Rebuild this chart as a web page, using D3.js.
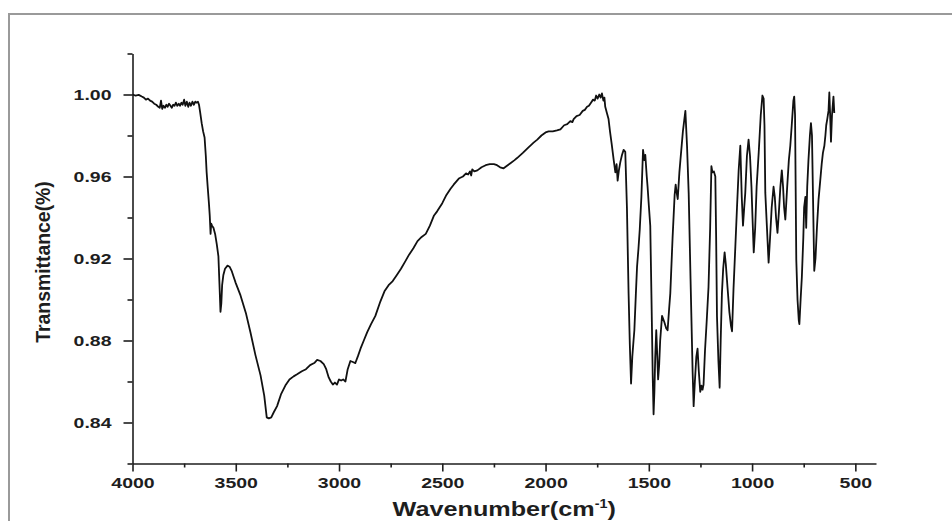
<!DOCTYPE html>
<html>
<head>
<meta charset="utf-8">
<script src="https://cdn.jsdelivr.net/npm/d3@7"></script>
<style>
  html, body { margin: 0; padding: 0; background: #fff; }
  svg { display: block; }
</style>
</head>
<body>
<div id="chart"></div>
<script>
// ---- data ----
const wavenumbers = [
  4000,3985,3970,3955,3945,3935,3925,3915,3905,3895,3885,3875,3868,3862,3856,3850,3843,3836,3830,3823,
  3816,3810,3803,3796,3790,3783,3776,3770,3763,3757,3750,3744,3737,3730,3724,3717,3710,3703,3696,3690,
  3683,3678,3672,3665,3658,3651,3645,3641,3636,3630,3626,3622,3619,3615,3608,3600,3592,3584,3578,3574,
  3570,3566,3560,3552,3540,3530,3520,3510,3500,3477,3450,3429,3405,3380,3362,3350,3340,3328,3316,3300,
  3280,3260,3240,3220,3203,3180,3160,3140,3120,3106,3090,3074,3062,3050,3040,3030,3020,3010,3000,2990,
  2980,2969,2958,2945,2933,2921,2908,2896,2880,2864,2845,2824,2800,2780,2760,2740,2720,2700,2680,2660,
  2640,2620,2600,2580,2560,2540,2525,2500,2480,2460,2445,2420,2400,2385,2375,2366,2360,2355,2345,2330,
  2310,2290,2270,2250,2235,2220,2203,2190,2170,2150,2138,2110,2085,2058,2040,2020,2000,1985,1965,1945,
  1928,1910,1895,1880,1870,1864,1850,1835,1820,1810,1799,1790,1780,1770,1762,1755,1748,1740,1733,1727,
  1720,1715,1711,1703,1695,1688,1680,1670,1662,1656,1651,1645,1638,1630,1622,1614,1606,1598,1592,1586,
  1580,1574,1570,1563,1557,1550,1544,1536,1528,1522,1517,1510,1506,1500,1493,1487,1481,1477,1473,1469,
  1464,1459,1455,1450,1445,1436,1425,1416,1409,1402,1396,1385,1375,1370,1365,1360,1352,1347,1335,1323,
  1315,1307,1298,1288,1283,1277,1270,1264,1258,1251,1245,1240,1235,1228,1220,1211,1203,1197,1192,1185,
  1178,1174,1170,1163,1157,1152,1146,1140,1133,1127,1119,1110,1102,1097,1090,1081,1073,1065,1057,1050,
  1044,1038,1033,1025,1017,1010,1003,998,992,985,978,968,958,950,944,940,936,928,920,913,
  905,896,890,884,877,870,863,856,850,845,839,830,822,815,808,800,796,792,786,780,
  774,771,765,759,752,748,742,738,733,727,720,715,710,705,699,693,686,678,670,663,
  657,650,645,641,636,630,626,622,618,613,606,602
];
const transmittance = [
  1.000,0.9995,0.9998,0.999,0.9985,0.9975,0.998,0.997,0.9965,0.9955,0.995,0.994,0.9935,0.997,0.993,0.9945,0.9935,0.995,0.994,0.9955,
  0.9945,0.9935,0.995,0.9945,0.996,0.9945,0.9955,0.9945,0.996,0.995,0.9975,0.9945,0.9965,0.994,0.996,0.9945,0.9965,0.995,0.9965,0.996,
  0.9965,0.995,0.991,0.986,0.982,0.979,0.970,0.962,0.955,0.947,0.941,0.932,0.937,0.936,0.935,0.932,0.927,0.921,0.905,0.894,
  0.898,0.907,0.912,0.915,0.9165,0.916,0.914,0.911,0.908,0.902,0.893,0.884,0.873,0.863,0.853,0.8425,0.842,0.8425,0.845,0.848,
  0.854,0.858,0.861,0.8625,0.8635,0.865,0.866,0.868,0.869,0.8705,0.870,0.8685,0.866,0.862,0.860,0.8585,0.8595,0.8585,0.861,0.8605,
  0.861,0.860,0.866,0.870,0.8695,0.869,0.8725,0.876,0.880,0.884,0.888,0.892,0.899,0.904,0.907,0.909,0.912,0.915,0.9185,0.922,
  0.925,0.9285,0.9305,0.932,0.936,0.941,0.943,0.947,0.951,0.954,0.956,0.959,0.960,0.9615,0.961,0.9625,0.9605,0.9635,0.9625,0.963,
  0.9645,0.9655,0.966,0.966,0.9655,0.9645,0.964,0.965,0.9665,0.968,0.969,0.9715,0.974,0.9765,0.978,0.980,0.9815,0.982,0.982,0.9825,
  0.983,0.985,0.9855,0.987,0.9865,0.988,0.9895,0.990,0.992,0.9925,0.994,0.9945,0.996,0.9975,0.997,0.9995,0.998,1.000,0.9985,1.0005,
  0.997,0.9985,0.994,0.991,0.988,0.982,0.976,0.968,0.962,0.966,0.958,0.963,0.967,0.9705,0.973,0.972,0.945,0.903,0.878,0.859,
  0.872,0.880,0.885,0.902,0.916,0.925,0.934,0.950,0.973,0.968,0.9705,0.960,0.955,0.946,0.936,0.900,0.862,0.844,0.855,0.872,
  0.885,0.872,0.861,0.868,0.880,0.892,0.889,0.886,0.885,0.895,0.903,0.930,0.951,0.956,0.952,0.949,0.962,0.968,0.982,0.992,
  0.975,0.952,0.910,0.865,0.848,0.860,0.872,0.876,0.865,0.855,0.858,0.856,0.8585,0.875,0.889,0.906,0.935,0.965,0.962,0.9625,
  0.960,0.930,0.892,0.870,0.857,0.880,0.903,0.915,0.923,0.917,0.906,0.894,0.887,0.8845,0.905,0.926,0.945,0.963,0.975,0.950,
  0.936,0.945,0.952,0.970,0.978,0.970,0.955,0.940,0.923,0.935,0.955,0.9715,0.990,0.9995,0.998,0.985,0.952,0.935,0.918,0.930,
  0.945,0.955,0.950,0.940,0.9325,0.943,0.955,0.963,0.955,0.945,0.939,0.955,0.968,0.975,0.985,0.997,0.999,0.990,0.9195,0.900,
  0.890,0.888,0.900,0.911,0.930,0.945,0.950,0.935,0.955,0.968,0.980,0.986,0.980,0.950,0.914,0.920,0.935,0.949,0.958,0.966,
  0.9715,0.975,0.980,0.985,0.988,0.992,1.001,0.990,0.977,0.990,0.999,0.991
];
const xMajorTicks = [4000, 3500, 3000, 2500, 2000, 1500, 1000, 500];
const xMinorTicks = [3750, 3250, 2750, 2250, 1750, 1250, 750];
const yMajorTicks = [0.84, 0.88, 0.92, 0.96, 1.00];
const yMinorTicks = [0.82, 0.86, 0.90, 0.94, 0.98, 1.02];
const xTitle = "Wavenumber(cm";
const yTitle = "Transmittance(%)";

// ---- layout ----
const W = 952, H = 521;
const plotLeft = 132.5, plotRight = 876, plotTop = 53.5, plotBottom = 463.5;

const svg = d3.select("#chart").append("svg").attr("width", W).attr("height", H);

// outer frame (top and left edges only visible)
svg.append("path")
  .attr("d", `M9,${H} L9,14 L${W},14`)
  .attr("fill", "none").attr("stroke", "#9a9a9a").attr("stroke-width", 2);

const x = d3.scaleLinear().domain([4000, 400]).range([plotLeft, plotRight]);
const y = d3.scaleLinear().domain([0.82, 1.02]).range([plotBottom, plotTop]);

const axisColor = "#1e1e1e";
const font = "'Liberation Sans', Arial, sans-serif";

// X axis
const gx = svg.append("g").attr("transform", `translate(0,${plotBottom})`)
  .call(d3.axisBottom(x).tickValues(xMajorTicks).tickSize(8).tickSizeOuter(0).tickFormat(d3.format("d")));
svg.append("g").attr("transform", `translate(0,${plotBottom})`)
  .call(d3.axisBottom(x).tickValues(xMinorTicks).tickSize(4).tickSizeOuter(0).tickFormat(""))
  .call(g => g.select(".domain").remove());
gx.selectAll("text")
  .attr("y", 24.5).attr("dy", 0)
  .attr("transform", "scale(1.3,1)")
  .style("font-family", font)
  .style("font-weight", "bold").style("font-size", "15px").attr("fill", axisColor);

// Y axis
const gy = svg.append("g").attr("transform", `translate(${plotLeft},0)`)
  .call(d3.axisLeft(y).tickValues(yMajorTicks).tickSize(9).tickSizeOuter(0).tickFormat(d3.format(".2f")));
svg.append("g").attr("transform", `translate(${plotLeft},0)`)
  .call(d3.axisLeft(y).tickValues(yMinorTicks).tickSize(5).tickSizeOuter(0).tickFormat(""))
  .call(g => g.select(".domain").remove());
gy.selectAll(".tick text")
  .attr("x", -21 / 1.3).attr("dy", "0.35em")
  .attr("transform", "scale(1.3,1)")
  .style("font-family", font)
  .style("font-weight", "bold").style("font-size", "15px").attr("fill", axisColor);

svg.selectAll(".domain, .tick line").attr("stroke", axisColor).attr("stroke-width", 1.6);

// X title
const xt = svg.append("text")
  .attr("transform", `translate(${(plotLeft + plotRight) / 2},515.5) scale(1.2,1)`)
  .attr("text-anchor", "middle")
  .style("font-family", font)
  .style("font-weight", "bold").style("font-size", "21px").attr("fill", axisColor);
xt.append("tspan").text(xTitle);
xt.append("tspan").attr("dy", -8).style("font-size", "12px").text("-1");
xt.append("tspan").attr("dy", 8).text(")");

// Y title
svg.append("text")
  .attr("transform", `translate(50,262) rotate(-90) scale(0.97,1)`)
  .attr("text-anchor", "middle")
  .style("font-family", font)
  .style("font-weight", "bold")
  .style("font-size", "20px").attr("fill", axisColor)
  .text(yTitle);

// spectrum
const data = wavenumbers.map((w, i) => [w, transmittance[i]]);
const line = d3.line().x(d => x(d[0])).y(d => y(d[1]));
svg.append("path")
  .datum(data)
  .attr("d", line)
  .attr("fill", "none")
  .attr("stroke", "#111")
  .attr("stroke-width", 1.8)
  .attr("stroke-linejoin", "round");
</script>
</body>
</html>
